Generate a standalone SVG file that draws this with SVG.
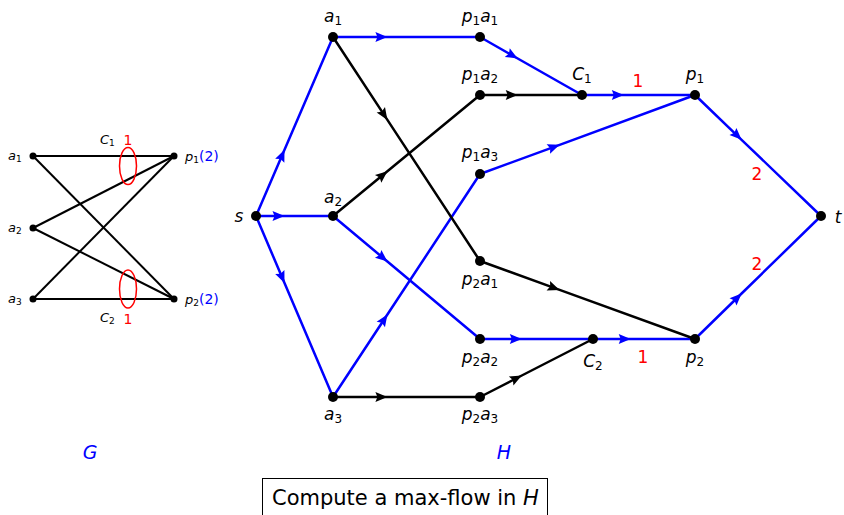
<svg xmlns="http://www.w3.org/2000/svg" width="844" height="515" viewBox="0 0 844 515">
<style>
text{font-family:"DejaVu Sans","Liberation Sans",sans-serif;}
.i{font-style:italic;}
.lbl{font-size:17px;}
.sub{font-size:12px;}
.red{fill:#ff0000;font-size:17px;}
.bl{fill:none;stroke:#0000ff;stroke-width:2.5;marker-mid:url(#ab);}
.bk{fill:none;stroke:#000;stroke-width:2.5;marker-mid:url(#ak);}
.g{fill:none;stroke:#000;stroke-width:2;}
.dot{fill:#000;}
</style>
<defs>
<marker id="ab" markerUnits="userSpaceOnUse" viewBox="-13 -6 14 12" refX="0" refY="0" markerWidth="14" markerHeight="12" orient="auto"><path d="M-12,-5 L0,0 L-12,5 L-10,0 z" fill="#0000ff"/></marker>
<marker id="ak" markerUnits="userSpaceOnUse" viewBox="-13 -6 14 12" refX="0" refY="0" markerWidth="14" markerHeight="12" orient="auto"><path d="M-12,-5 L0,0 L-12,5 L-10,0 z" fill="#000"/></marker>
</defs>

<!-- Graph G -->
<g id="G-edges">
<line class="g" x1="33" y1="156" x2="174" y2="156"/>
<line class="g" x1="33" y1="156" x2="174" y2="299"/>
<line class="g" x1="33" y1="228" x2="174" y2="156"/>
<line class="g" x1="33" y1="228" x2="174" y2="299"/>
<line class="g" x1="33" y1="299" x2="174" y2="156"/>
<line class="g" x1="33" y1="299" x2="174" y2="299"/>
<ellipse cx="128" cy="166" rx="8.5" ry="18.5" fill="none" stroke="#ff0000" stroke-width="1.5"/>
<ellipse cx="128" cy="289" rx="8.5" ry="19" fill="none" stroke="#ff0000" stroke-width="1.5"/>
</g>
<g id="G-a1"><circle class="dot" cx="33" cy="156" r="3.5"/><text x="8" y="160" font-size="13"><tspan class="i">a</tspan><tspan font-size="9" dy="2">1</tspan></text></g>
<g id="G-a2"><circle class="dot" cx="33" cy="228" r="3.5"/><text x="8" y="232" font-size="13"><tspan class="i">a</tspan><tspan font-size="9" dy="2">2</tspan></text></g>
<g id="G-a3"><circle class="dot" cx="33" cy="299" r="3.5"/><text x="8" y="303" font-size="13"><tspan class="i">a</tspan><tspan font-size="9" dy="2">3</tspan></text></g>
<g id="G-p1"><circle class="dot" cx="174" cy="156" r="3.5"/><text x="185" y="161" font-size="13"><tspan class="i">p</tspan><tspan font-size="9" dy="2">1</tspan><tspan dy="-2" fill="#0000ff" font-size="14">(2)</tspan></text></g>
<g id="G-p2"><circle class="dot" cx="174" cy="299" r="3.5"/><text x="185" y="304" font-size="13"><tspan class="i">p</tspan><tspan font-size="9" dy="2">2</tspan><tspan dy="-2" fill="#0000ff" font-size="14">(2)</tspan></text></g>
<g id="G-C1"><text x="100" y="144" font-size="13"><tspan class="i">C</tspan><tspan font-size="9" dy="2">1</tspan></text><text x="128" y="145" text-anchor="middle" fill="#ff0000" font-size="14">1</text></g>
<g id="G-C2"><text x="100" y="322" font-size="13"><tspan class="i">C</tspan><tspan font-size="9" dy="2">2</tspan></text><text x="128" y="324" text-anchor="middle" fill="#ff0000" font-size="14">1</text></g>
<text x="90" y="459" text-anchor="middle" class="i" font-size="19" fill="#0000ff">G</text>

<!-- Graph H connectors -->
<g id="connectors">
<path class="bl" d="M256,216 L284.5,149.8 L333,37"/>
<path class="bl" d="M256,216 L284.5,216 L333,216"/>
<path class="bl" d="M256,216 L284.5,283 L333,397"/>
<path class="bl" d="M333,37 L387.4,37 L480,37"/>
<path class="bl" d="M480,37 L517.7,58.5 L582,95"/>
<path class="bl" d="M582,95 L623.8,95 L695,95"/>
<path class="bl" d="M480,174 L559.6,144.8 L695,95"/>
<path class="bl" d="M695,95 L741.6,139.8 L821,216"/>
<path class="bl" d="M333,216 L387.4,261.5 L480,339"/>
<path class="bl" d="M480,339 L521.8,339 L593,339"/>
<path class="bl" d="M593,339 L630.7,339 L695,339"/>
<path class="bl" d="M695,339 L741.6,293.5 L821,216"/>
<path class="bl" d="M333,397 L387.4,314.5 L480,174"/>
<path class="bk" d="M333,37 L387.4,119.9 L480,261"/>
<path class="bk" d="M333,216 L387.4,171.2 L480,95"/>
<path class="bk" d="M480,95 L517.7,95 L582,95"/>
<path class="bk" d="M480,261 L559.6,289.9 L695,339"/>
<path class="bk" d="M333,397 L387.4,397 L480,397"/>
<path class="bk" d="M480,397 L521.8,375.5 L593,339"/>
</g>

<!-- H nodes -->
<g id="s"><circle class="dot" cx="256" cy="216" r="5"/><text x="239" y="222" text-anchor="middle" class="lbl i">s</text></g>
<g id="t"><circle class="dot" cx="821" cy="216" r="5"/><text x="838" y="223" text-anchor="middle" class="lbl i">t</text></g>
<g id="a1"><circle class="dot" cx="333" cy="37" r="5"/><text x="333" y="22" text-anchor="middle" class="lbl"><tspan class="i">a</tspan><tspan class="sub" dy="3">1</tspan></text></g>
<g id="a2"><circle class="dot" cx="333" cy="216" r="5"/><text x="333" y="203" text-anchor="middle" class="lbl"><tspan class="i">a</tspan><tspan class="sub" dy="3">2</tspan></text></g>
<g id="a3"><circle class="dot" cx="333" cy="397" r="5"/><text x="333" y="420" text-anchor="middle" class="lbl"><tspan class="i">a</tspan><tspan class="sub" dy="3">3</tspan></text></g>
<g id="p1a1"><circle class="dot" cx="480" cy="37" r="5"/><text x="480" y="22" text-anchor="middle" class="lbl"><tspan class="i">p</tspan><tspan class="sub" dy="3">1</tspan><tspan class="i" dy="-3">a</tspan><tspan class="sub" dy="3">1</tspan></text></g>
<g id="p1a2"><circle class="dot" cx="480" cy="95" r="5"/><text x="480" y="80" text-anchor="middle" class="lbl"><tspan class="i">p</tspan><tspan class="sub" dy="3">1</tspan><tspan class="i" dy="-3">a</tspan><tspan class="sub" dy="3">2</tspan></text></g>
<g id="p1a3"><circle class="dot" cx="480" cy="174" r="5"/><text x="480" y="158" text-anchor="middle" class="lbl"><tspan class="i">p</tspan><tspan class="sub" dy="3">1</tspan><tspan class="i" dy="-3">a</tspan><tspan class="sub" dy="3">3</tspan></text></g>
<g id="p2a1"><circle class="dot" cx="480" cy="261" r="5"/><text x="480" y="285" text-anchor="middle" class="lbl"><tspan class="i">p</tspan><tspan class="sub" dy="3">2</tspan><tspan class="i" dy="-3">a</tspan><tspan class="sub" dy="3">1</tspan></text></g>
<g id="p2a2"><circle class="dot" cx="480" cy="339" r="5"/><text x="480" y="363" text-anchor="middle" class="lbl"><tspan class="i">p</tspan><tspan class="sub" dy="3">2</tspan><tspan class="i" dy="-3">a</tspan><tspan class="sub" dy="3">2</tspan></text></g>
<g id="p2a3"><circle class="dot" cx="480" cy="397" r="5"/><text x="480" y="420" text-anchor="middle" class="lbl"><tspan class="i">p</tspan><tspan class="sub" dy="3">2</tspan><tspan class="i" dy="-3">a</tspan><tspan class="sub" dy="3">3</tspan></text></g>
<g id="C1"><circle class="dot" cx="582" cy="95" r="5"/><text x="582" y="80" text-anchor="middle" class="lbl"><tspan class="i">C</tspan><tspan class="sub" dy="3">1</tspan></text></g>
<g id="C2"><circle class="dot" cx="593" cy="339" r="5"/><text x="593" y="367" text-anchor="middle" class="lbl"><tspan class="i">C</tspan><tspan class="sub" dy="3">2</tspan></text></g>
<g id="p1"><circle class="dot" cx="695" cy="95" r="5"/><text x="695" y="80" text-anchor="middle" class="lbl"><tspan class="i">p</tspan><tspan class="sub" dy="3">1</tspan></text></g>
<g id="p2"><circle class="dot" cx="695" cy="339" r="5"/><text x="695" y="363" text-anchor="middle" class="lbl"><tspan class="i">p</tspan><tspan class="sub" dy="3">2</tspan></text></g>

<g id="capacities">
<text x="638" y="87" text-anchor="middle" class="red">1</text>
<text x="757" y="180" text-anchor="middle" class="red">2</text>
<text x="757" y="270" text-anchor="middle" class="red">2</text>
<text x="643" y="363" text-anchor="middle" class="red">1</text>
</g>
<text x="504" y="459" text-anchor="middle" class="i" font-size="19" fill="#0000ff">H</text>

<g id="caption">
<rect x="262.5" y="478.5" width="285" height="45" fill="none" stroke="#000" stroke-width="1"/>
<text x="272" y="505" font-size="21">Compute a max-flow in <tspan class="i">H</tspan></text>
</g>
</svg>
